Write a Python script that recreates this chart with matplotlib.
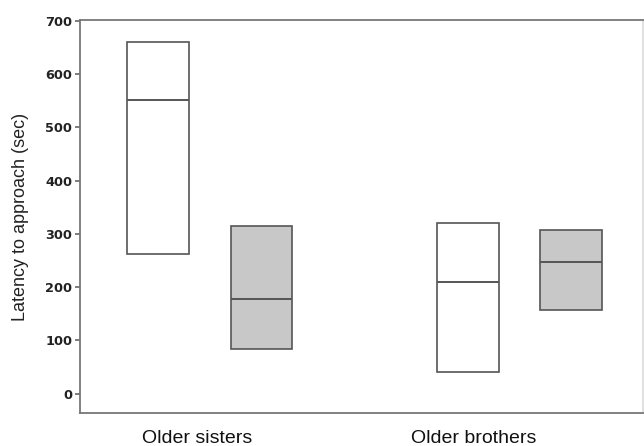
import matplotlib.pyplot as plt

# box values (sec)
positions = [1, 2, 4, 5]
lower = [262, 84, 41, 158]
median = [551, 177, 210, 247]
upper = [660, 315, 321, 308]
fills = ['white', '#c8c8c8', 'white', '#c8c8c8']

group_labels = ['Older sisters', 'Older brothers']
group_pos = [1.38, 4.06]
yticks = [0, 100, 200, 300, 400, 500, 600, 700]

fig = plt.figure(figsize=(6.44, 4.46), dpi=100)
ax = fig.add_axes([80 / 644, 33 / 446, 563 / 644, 393 / 446])

heights = [u - l for u, l in zip(upper, lower)]
ax.bar(positions, heights, bottom=lower, width=0.6, color=fills,
       edgecolor='#555555', linewidth=1.2, zorder=2)
ax.hlines(median, [p - 0.3 for p in positions], [p + 0.3 for p in positions],
          colors='#555555', linewidth=1.4, zorder=3)

ax.set_xlim(0.24, 5.70)
ax.set_ylim(-36, 701)
ax.set_yticks(yticks)
ax.set_yticklabels([str(t) for t in yticks], fontfamily='DejaVu Sans',
                   fontweight='bold', fontsize=9.3, color='#222222')
ax.set_xticks(group_pos)
ax.set_xticklabels(group_labels, fontfamily='Liberation Sans', fontsize=14,
                   color='#111111')
ax.tick_params(axis='x', length=0, pad=12.5)
ax.tick_params(axis='y', length=3.5, width=1.2, color='#666666', pad=2)

ax.set_ylabel('Latency to approach (sec)', fontfamily='Liberation Sans',
              fontsize=13, color='#222222')
ax.yaxis.set_label_coords(-0.091, 0.5)

for side in ['left', 'bottom', 'top', 'right']:
    ax.spines[side].set_color('#777777')
    ax.spines[side].set_linewidth(1.3)
ax.spines['right'].set_color('#dddddd')

fig.savefig('out.png', dpi=100)
